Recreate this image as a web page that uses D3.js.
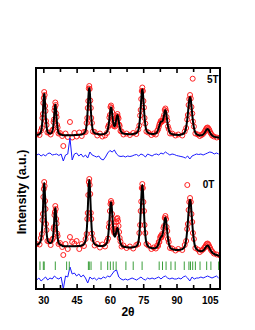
<!DOCTYPE html>
<html>
<head>
<meta charset="utf-8">
<script src="https://cdn.jsdelivr.net/npm/d3@7"></script>
<style>
  body { margin: 0; background: #fff; }
  svg { display: block; }
  text { font-family: "Liberation Sans", Arial, sans-serif; font-weight: bold; }
</style>
</head>
<body>
<div id="chart"></div>
<script>
// 2-theta grid of the observed / calculated profiles
const angles = [27.0, 28.3, 28.95, 29.35, 29.6, 29.8, 30.0, 30.2, 30.4, 30.6, 30.8, 31.0, 31.2, 31.45, 31.85, 32.5, 33.3, 33.95, 34.35, 34.6, 34.8, 35.0, 35.2, 35.4, 35.6, 35.8, 36.0, 36.2, 36.45, 36.85, 37.5, 38.5,
  39.0, 40.0, 41.0, 42.0, 43.0, 44.0, 45.0, 46.2,
  47.3, 48.3, 49.05, 49.5, 49.8, 50.0, 50.25, 50.5, 50.7, 50.9, 51.15, 51.4, 51.6, 51.9, 52.35, 53.1, 54.3,
  55.5, 56.6,
  57.8, 58.65, 59.15, 59.5, 59.75, 60.0, 60.25, 60.5, 60.75, 61.0, 61.25, 61.5, 61.75, 62.0, 62.25, 62.5, 62.7, 62.9, 63.15, 63.4, 63.65, 63.9, 64.15, 64.4, 64.75, 65.25, 66.1, 67.5,
  69.0, 70.5,
  71.9, 72.75, 73.25, 73.6, 73.85, 74.1, 74.35, 74.6, 74.85, 75.1, 75.35, 75.6, 75.95, 76.45, 77.3,
  78.7, 79.7, 80.7, 81.3, 81.7, 82.0, 82.3, 82.6, 82.9, 83.2, 83.5, 83.8, 84.1, 84.4, 84.7, 85.0, 85.3, 85.55, 85.85, 86.15, 86.5, 87.1, 88.05, 89.55,
  90.8, 92.6, 93.7, 94.35, 94.8, 95.1, 95.45, 95.75, 96.1, 96.45, 96.75, 97.1, 97.4, 97.85, 98.5, 99.6,
  100.5, 101.3, 101.9, 102.45, 102.85, 103.2, 103.6, 104.0, 104.4, 104.8, 105.15, 105.55, 106.1, 106.85, 108.15, 109.6];

const calc5T = [13.9, 15.0, 17.4, 22.5, 29.1, 36.1, 44.7, 52.1, 55.3, 52.1, 44.8, 36.2, 29.1, 22.7, 17.7, 15.8, 15.5, 16.9, 20.6, 25.3, 30.6, 36.9, 42.3, 44.6, 42.2, 36.8, 30.4, 25.1, 20.3, 16.5, 14.8, 14.1,
  13.7, 13.75, 13.7, 13.75, 13.8, 13.9, 14.0, 14.25,
  14.5, 15.6, 18.2, 24.2, 32.0, 39.2, 49.5, 58.4, 61.0, 58.5, 49.6, 39.3, 32.2, 24.4, 18.5, 15.9, 15.0,
  14.6, 14.7,
  15.4, 17.0, 20.5, 25.2, 29.8, 35.1, 39.8, 41.8, 40.1, 35.7, 30.7, 26.6, 23.7, 22.7, 23.2, 25.0, 27.4, 29.9, 32.8, 33.9, 32.4, 29.2, 25.4, 22.1, 19.0, 16.5, 15.4, 14.9,
  14.8, 15.1,
  15.9, 18.4, 24.3, 32.2, 40.0, 49.0, 56.7, 59.7, 56.7, 49.0, 40.0, 32.3, 24.4, 18.5, 16.1,
  15.1, 15.1, 15.6, 17.1, 19.0, 21.0, 23.4, 25.7, 27.1, 27.5, 27.5, 28.3, 30.6, 33.8, 37.7, 38.9, 36.7, 32.8, 27.7, 23.2, 19.4, 16.2, 14.8, 14.2,
  14.1, 14.7, 16.8, 21.8, 28.5, 34.6, 42.9, 49.1, 52.1, 49.0, 42.7, 34.4, 28.2, 21.4, 16.3, 14.1,
  13.6, 13.7, 14.3, 15.5, 16.8, 18.2, 19.5, 20.0, 19.4, 17.8, 16.3, 14.8, 13.4, 12.3, 11.7, 11.3];

const obs5T = [14.5, 14, 18.5, 21, 31, 35, 46, 51, 57, 54, 43, 38, 28, 24, 16.5, 16.5, 14.5, 18, 19.5, 27, 29.5, 38.5, 41.5, 46.5, 44, 35.5, 32, 24, 21.5, 15.5, 16, 13,
  3, 15.5, 12, 27, 11.5, 16, 12.5, 16.5,
  13, 17, 17, 26, 31, 41, 48, 60.5, 63, 60, 48.5, 41, 31, 26, 17.5, 17, 13.5,
  15.5, 12.5,
  13.5, 16, 22, 24, 31.5, 34, 42, 43.5, 41, 37, 30, 28.5, 23, 24, 22.5, 26.5, 27, 31.5, 33, 35, 32, 30.5, 24.5, 23, 18, 17.5, 14.5, 15.5,
  14, 16,
  15, 19.5, 23.5, 33.5, 39, 50, 58, 61.5, 58, 48, 41.5, 31, 25.5, 17.5, 16.5,
  14, 15.5, 14.5, 18, 19.5, 22, 24.5, 26, 28, 27, 28.5, 28, 31.5, 34, 39, 40.5, 38, 32, 28.5, 22.5, 20, 15.5, 15.5, 13.5,
  14.5, 13.5, 17.5, 21, 29.5, 34, 44, 50, 54, 50.5, 42, 35.5, 27.5, 22.5, 15.5, 14.5,
  13, 14, 15, 16.5, 18, 19.5, 21, 21.5, 20.5, 19, 17, 15.5, 13.5, 12.5, 11.5, 11.5];

const calc0T = [14.2, 15.9, 19.3, 27.0, 36.6, 47.3, 60.3, 71.3, 76.0, 71.3, 60.3, 47.4, 36.7, 27.2, 19.6, 16.4, 15.9, 17.4, 21.9, 27.6, 34.0, 41.8, 48.3, 51.1, 48.2, 41.5, 33.7, 27.2, 21.3, 16.5, 14.4, 13.4,
  12.8, 12.8, 12.75, 12.7, 12.7, 12.75, 12.85, 13.05,
  13.5, 14.9, 18.5, 26.9, 37.9, 47.9, 62.4, 75.0, 78.9, 75.2, 62.6, 48.1, 38.0, 27.0, 18.6, 14.9, 13.5,
  12.9, 13.0,
  13.9, 16.3, 22.0, 29.7, 37.3, 46.1, 53.7, 56.8, 53.9, 46.5, 38.0, 30.8, 25.5, 23.0, 22.2, 23.4, 25.5, 27.6, 30.2, 31.2, 29.6, 26.3, 22.5, 19.2, 16.1, 13.6, 12.3, 11.8,
  11.5, 11.7,
  12.8, 16.3, 24.4, 35.5, 46.4, 58.9, 69.8, 74.0, 69.8, 58.9, 46.4, 35.5, 24.3, 16.0, 12.4,
  10.9, 10.7, 11.1, 12.3, 14.0, 15.9, 18.1, 20.2, 21.7, 22.5, 23.3, 25.3, 29.2, 34.2, 39.5, 41.4, 38.7, 33.5, 26.8, 21.0, 16.0, 11.7, 9.8, 9.1,
  8.9, 9.8, 12.5, 19.1, 28.0, 36.1, 47.1, 55.4, 59.3, 55.3, 46.8, 35.7, 27.6, 18.5, 11.7, 8.7,
  7.9, 7.8, 8.3, 9.3, 10.6, 11.8, 13.1, 13.5, 12.8, 11.2, 9.6, 8.0, 6.5, 5.1, 4.0, 2.9];

const obs0T = [15, 14.5, 21, 25, 39, 45, 62, 70, 77, 73, 58, 50, 35, 29, 18, 17.5, 14, 19, 20.5, 30, 32, 44, 47, 53, 50, 40, 35.5, 25.5, 23, 15, 16, 12,
  4, 15, 10, 22, 17, 15.5, 18, 10,
  15, 13, 20, 25, 40, 46, 64, 77, 80, 74, 65, 46, 40, 25.5, 20, 13.5, 15,
  11.5, 14.5,
  12.5, 18, 20.5, 32, 36, 48, 55, 58, 56, 45, 40, 30, 28, 26, 27, 30, 33, 37, 40, 41, 38, 33, 27, 21, 17.5, 12.5, 13.5, 11,
  12.5, 10.5,
  14, 15, 26, 34, 48, 57.5, 71, 75, 71, 57, 48, 34, 26, 15, 13.5,
  10, 11.5, 10.5, 13.5, 13, 17, 17, 21.5, 23, 21.5, 25, 24, 31, 33, 41, 43, 40, 32, 28, 20, 17, 11, 10.5, 8.5,
  10, 9, 14, 18, 30, 35, 49, 57, 61, 57, 45, 37, 26, 20, 11, 9.5,
  7, 8.5, 9.5, 11, 12, 13.5, 15, 15.5, 14.5, 12.5, 11, 9, 7.5, 5.5, 4.5, 3.5];

// difference curves (obs - calc)
const diffAngles = [27, 28, 29, 30, 31, 32, 33, 34, 35, 36, 37, 38, 39, 40, 41, 42, 43, 44, 45, 46, 47, 48, 49, 50, 51, 52, 53, 54, 55, 56, 57, 58, 59, 60, 61, 62, 63, 64, 65, 66, 67, 68,
  69, 70, 71, 72, 73, 74, 75, 76, 77, 78, 79, 80, 81, 82, 83, 84, 85, 86, 87, 88, 89, 90, 91, 92, 93, 94, 95, 96, 97, 98, 99, 100, 101, 102, 103, 104, 105, 106, 107, 108, 109];
const diff5T = [0, 1, -1, 0.5, -1, 1.5, 2, 0, 0.5, 1, -0.5, 1, -6, 0, 1, 17, -5, 1, 2, -1, 1, -2, 0, -3, 3, 0, -1, -2, -1, -4, -5, -2, 2, 4.5, 3, 5, 1, -1, -1.5, -1, -2, -1,
  -1.5, -1, 0, 0.5, -1, 1, 0, -2, 1, 0, -1, 0.5, 1, 0, 2, 1, 3, 1.5, 0, 1, 0.5, -0.5, -1, -1.5, -2, -3, -1, -4, -1, 0, 1, 0.5, 1, 0, 1, 2, 3, 2.5, 1, 2, 1];
const diff0T = [-1, 1, -2, 0, 2, -1, 1, 0, 3, 1, 0, 2, -10, 3, 2, 12, 5, 6, 3, 5, 2, 4, 1, -4, 2, 0, 1, -1, 1, 0, 2, 1, 3, 2, 5, 8, 9, 2, 0, -1, 0, -1,
  0, 1, 0, -1, 0.5, 2, 0, -1, 1, 0, 1, 0, 1, 2, 0, 2, 3, 1, 0, 1, 0, 0, 1, 0, 2, 3, 1, -2, 2, 0, 1, 1, 2, 1, 2, 3, 2, 1, 2, 3, 1];

// Bragg reflection positions
const braggPeaks = [28.5, 30.0, 30.4, 35.4, 40.5, 41.7, 50.3, 50.7, 51.5, 56.0, 59.0, 60.2, 61.5, 62.8, 67.2, 70.5, 74.5, 82.2, 83.7, 85.3, 87.5, 89.4, 93.5, 95.6, 96.3, 97.3, 98.5, 100.6, 103.6, 105.5, 109.0];

const xTicks = [30, 45, 60, 75, 90, 105];
const xMinorTicks = [37.5, 52.5, 67.5, 82.5, 97.5];

const margin = { top: 68, right: 35, bottom: 41, left: 36 };
const width = 255 - margin.left - margin.right;
const height = 330 - margin.top - margin.bottom;

const svg = d3.select('#chart')
  .append('svg')
  .attr('width', 255)
  .attr('height', 330)
  .append('g')
  .attr('transform', `translate(${margin.left},${margin.top})`);

const x = d3.scaleLinear().domain([26.7, 109.6]).range([0, width]);
const y = d3.scaleLinear().domain([0, 221]).range([height, 0]);

svg.append('clipPath').attr('id', 'clip')
  .append('rect').attr('width', width).attr('height', height);

const plot = svg.append('g').attr('clip-path', 'url(#clip)');

const patterns = [
  { calc: calc5T, obs: obs5T, diff: diff5T, offset: 140, diffOffset: 134 },
  { calc: calc0T, obs: obs0T, diff: diff0T, offset: 30, diffOffset: 10 },
];

const line = d3.line().x(d => x(d[0])).y(d => y(d[1])).curve(d3.curveMonotoneX);
const diffLine = d3.line().x(d => x(d[0])).y(d => y(d[1]));

patterns.forEach(p => {
  const obsPts = angles.map((a, i) => [a, p.obs[i] + p.offset]);
  const calcPts = angles.map((a, i) => [a, p.calc[i] + p.offset]);
  const diffPts = diffAngles.map((a, i) => [a, p.diff[i] + p.diffOffset]);

  plot.append('g')
    .selectAll('circle')
    .data(obsPts)
    .enter()
    .append('circle')
    .attr('cx', d => x(d[0]))
    .attr('cy', d => y(d[1]))
    .attr('r', 2.5)
    .attr('fill', 'none')
    .attr('stroke', '#ff2020')
    .attr('stroke-width', 1);

  plot.append('path')
    .datum(calcPts)
    .attr('fill', 'none')
    .attr('stroke', '#000')
    .attr('stroke-width', 2)
    .attr('d', line);

  plot.append('path')
    .datum(diffPts)
    .attr('fill', 'none')
    .attr('stroke', '#1a1aff')
    .attr('stroke-width', 1)
    .attr('d', diffLine);
});

// Bragg ticks
plot.append('g')
  .selectAll('line')
  .data(braggPeaks)
  .enter()
  .append('line')
  .attr('x1', d => x(d))
  .attr('x2', d => x(d))
  .attr('y1', y(19))
  .attr('y2', y(27.5))
  .attr('stroke', '#3a9e3a')
  .attr('stroke-width', 1);

// axes, ticks pointing inward
function styleAxis(g) {
  g.select('.domain').remove();
  g.selectAll('line').attr('stroke', '#000').attr('stroke-width', 1.6);
  g.selectAll('text')
    .attr('font-size', 10)
    .attr('font-family', '"Liberation Sans", Arial, sans-serif')
    .attr('font-weight', 'bold')
    .attr('fill', '#000');
}

svg.append('g').attr('transform', `translate(0,${height})`)
  .call(d3.axisBottom(x).tickValues(xTicks).tickSizeInner(-5).tickSizeOuter(0).tickPadding(8))
  .call(styleAxis);
svg.append('g').attr('transform', `translate(0,${height})`)
  .call(d3.axisBottom(x).tickValues(xMinorTicks).tickSizeInner(-4).tickSizeOuter(0).tickFormat(''))
  .call(styleAxis);
svg.append('g')
  .call(d3.axisTop(x).tickValues(xTicks).tickSizeInner(-5).tickSizeOuter(0).tickFormat(''))
  .call(styleAxis);
svg.append('g')
  .call(d3.axisTop(x).tickValues(xMinorTicks).tickSizeInner(-4).tickSizeOuter(0).tickFormat(''))
  .call(styleAxis);

svg.append('rect')
  .attr('width', width)
  .attr('height', height)
  .attr('fill', 'none')
  .attr('stroke', '#000')
  .attr('stroke-width', 2);

// legend entries
const legend = [
  { label: '5T', cx: 156.7, cy: 10.7, tx: 171, ty: 14.5 },
  { label: '0T', cx: 151.3, cy: 117, tx: 166.7, ty: 120.3 },
];
legend.forEach(l => {
  svg.append('circle').attr('cx', l.cx).attr('cy', l.cy).attr('r', 2.5)
    .attr('fill', 'none').attr('stroke', '#ff2020').attr('stroke-width', 1);
  svg.append('text').attr('x', l.tx).attr('y', l.ty).attr('font-size', 10).text(l.label);
});

// axis titles
svg.append('text')
  .attr('x', width / 2)
  .attr('y', height + 27)
  .attr('text-anchor', 'middle')
  .attr('font-size', 12)
  .text('2θ');

svg.append('text')
  .attr('transform', `translate(-10,${192 - margin.top}) rotate(-90)`)
  .attr('text-anchor', 'middle')
  .attr('font-size', 12.5)
  .text('Intensity (a.u.)');
</script>
</body>
</html>
